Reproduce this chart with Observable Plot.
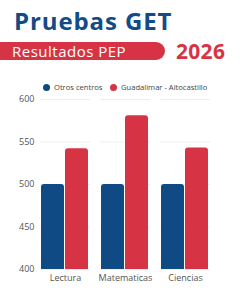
<!DOCTYPE html>
<html><head><meta charset="utf-8">
<script src="https://cdn.jsdelivr.net/npm/d3@7"></script>
<script src="https://cdn.jsdelivr.net/npm/@observablehq/plot@0.6"></script>
<style>
body{margin:0;width:240px;height:300px;background:#fff;position:relative;overflow:hidden;font-family:"Open Sans",sans-serif;}
#title{position:absolute;left:14px;top:4px;font-size:24px;font-weight:700;color:#134b85;letter-spacing:0.9px;font-family:"Open Sans",sans-serif;}
#banner{position:absolute;left:0;top:42px;width:165px;height:18px;background:#d63444;border-radius:0 9px 9px 0;}
#banner span{position:absolute;left:12px;top:-1px;color:#fff;font-size:15px;font-weight:500;line-height:20px;letter-spacing:0.5px;}
#year{position:absolute;left:176px;top:37px;font-size:21px;font-weight:700;color:#d63444;letter-spacing:0.3px;}
#legend{position:absolute;top:82px;left:0;width:240px;font-size:7.6px;color:#444;}
.li{position:absolute;top:0;white-space:nowrap;}
.dot{display:inline-block;width:7px;height:7px;border-radius:50%;margin-right:4px;vertical-align:-1px;}
#chart{position:absolute;left:0;top:90px;}
</style></head>
<body>
<div id="title">Pruebas GET</div>
<div id="banner"><span>Resultados PEP</span></div>
<div id="year">2026</div>
<div id="legend"></div>
<div id="chart"></div>
<script>
const subjects = ["Lectura", "Matematicas", "Ciencias"];
const series = ["Otros centros", "Guadalimar - Altocastillo"];
const otros = [500, 500, 500];
const guadalimar = [542, 581, 543];
const colors = ["#0f4a85", "#d63444"];
const yTicks = [400, 450, 500, 550, 600];

const data = [];
subjects.forEach((s, i) => {
  data.push({subject: s, series: series[0], value: otros[i]});
  data.push({subject: s, series: series[1], value: guadalimar[i]});
});

const leg = document.getElementById("legend");
const legX = [43, 110];
series.forEach((s, i) => {
  const d = document.createElement("div");
  d.className = "li";
  d.style.left = legX[i] + "px";
  d.innerHTML = `<span class="dot" style="background:${colors[i]}"></span>${s}`;
  leg.appendChild(d);
});

const chart = Plot.plot({
  width: 240,
  height: 200,
  marginTop: 9,
  marginBottom: 21,
  marginLeft: 40,
  marginRight: 30,
  style: {fontFamily: "Open Sans, sans-serif", fontSize: "9px", color: "#555"},
  fx: {domain: subjects, paddingInner: 0.1667, paddingOuter: 0, label: null, axis: "bottom", tickSize: 0, tickPadding: 5},
  x: {domain: series, padding: 0.03, axis: null},
  y: {domain: [400, 600], ticks: yTicks, label: null, tickSize: 0, tickPadding: 6, grid: false},
  color: {domain: series, range: colors},
  marks: [
    Plot.ruleY(yTicks, {stroke: "#eee", strokeWidth: 1}),
    Plot.barY(data, {fx: "subject", x: "series", y1: 300, y2: "value", fill: "series", rx: 3, clip: true})
  ]
});
document.getElementById("chart").appendChild(chart);
</script>
</body></html>
